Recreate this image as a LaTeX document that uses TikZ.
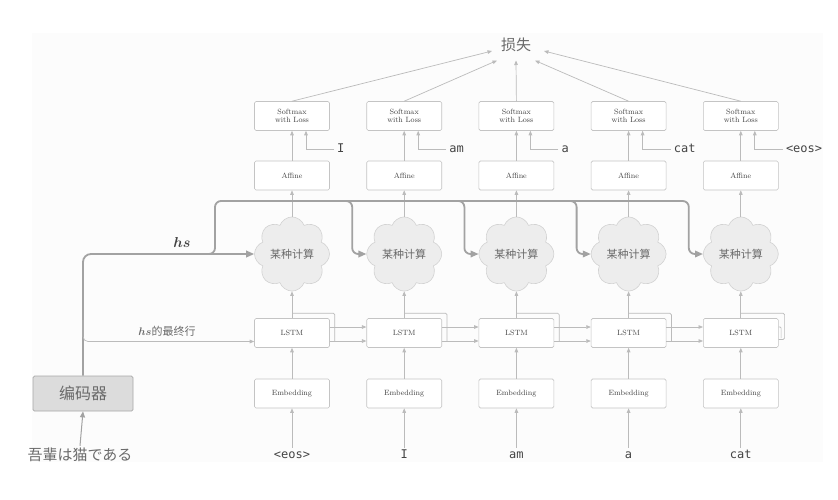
\documentclass[tikz,border=0pt]{standalone}
\usepackage{fontspec}
\usepackage{bm}
\newfontfamily\cjk{Noto Sans CJK SC}
\newfontfamily\mono{DejaVu Sans Mono}
\usetikzlibrary{shapes.symbols,arrows.meta,calc}
\definecolor{boxc}{HTML}{C4C4C4}
\definecolor{linec}{HTML}{BBBBBB}
\definecolor{hsc}{HTML}{A2A2A2}
\definecolor{cloudf}{HTML}{EDEDED}
\definecolor{cloudd}{HTML}{D2D2D2}
\definecolor{encf}{HTML}{DCDCDC}
\definecolor{encd}{HTML}{A8A8A8}
\definecolor{txt}{HTML}{444444}
\definecolor{ctxt}{HTML}{6A6A6A}
\definecolor{bgc}{HTML}{FCFCFC}
\begin{document}
\begin{tikzpicture}[x=1pt,y=-1pt,
  layerbox/.style={draw=boxc, fill=white, rounded corners=1.5pt, minimum width=75pt, minimum height=29pt, inner sep=0pt, align=center, text=txt, line width=0.6pt, font=\fontsize{7.6}{8.7}\selectfont},
  cloudnode/.style={cloud, cloud puffs=8, cloud puff arc=140, aspect=1, draw=cloudd, fill=cloudf, line width=0.6pt, minimum width=75pt, minimum height=72pt, inner sep=0pt, text=ctxt, font=\cjk\fontsize{11}{11}\selectfont},
  arr/.style={draw=linec, line width=0.7pt, -{Triangle[length=4.5pt,width=3.6pt]}},
  thinline/.style={draw=linec, line width=0.7pt},
  hsline/.style={draw=hsc, line width=1.8pt},
  hsarr/.style={-{Triangle[length=8pt,width=6.5pt]}},
  word/.style={text=txt, font=\mono\fontsize{12}{12}\selectfont, text height=8.5pt, text depth=2pt, inner sep=2pt},
  target/.style={word, anchor=west, inner sep=3pt}
]
\useasboundingbox (0,0) rectangle (838,499);
\fill[bgc] (32,33) rectangle (823,462);

% loss
\node[text=ctxt, font=\cjk\fontsize{15}{15}\selectfont, inner sep=0pt] (loss) at (516,45) {损失};
\coordinate (L1) at (492,51);
\coordinate (L2) at (497,60.5);
\coordinate (L3) at (516,60.5);
\coordinate (L4) at (535,60.5);
\coordinate (L5) at (544,51);

\foreach \i/\x/\tg/\inp in {1/292/I/<eos>, 2/404.2/am/I, 3/516.4/a/am, 4/628.6/cat/a, 5/740.8/<eos>/cat}{
  \node[layerbox] (sm\i) at (\x,116) {Softmax\\with Loss};
  \node[layerbox] (af\i) at (\x,175.5) {Affine};
  \node[cloudnode] (cl\i) at (\x,254) {某种计算};
  \node[layerbox] (ls\i) at (\x,333) {LSTM};
  \node[layerbox] (em\i) at (\x,393.5) {Embedding};
  \node[word] (w\i) at (\x,455) {\inp};
  \node[target] (tg\i) at (\x+42,149) {\tg};
  \draw[arr] (w\i.north) -- (em\i.south);
  \draw[arr] (em\i.north) -- (ls\i.south);
  \draw[arr] (ls\i.north) -- (cl\i.south);
  \draw[arr] (cl\i.north) -- (af\i.south);
  \draw[arr] (af\i.north) -- (sm\i.south);
  \draw[arr] (tg\i.west) -| ($(sm\i.south)+(14,0)$);
  \draw[arr] (sm\i.north) -- (L\i);
}

% LSTM recurrent connections
\foreach \i/\j in {1/2,2/3,3/4,4/5}{
  \draw[thinline, rounded corners=1.5pt] ($(ls\i.north)+(0,-5)$) -| ($(ls\i.east)+(5,8)$);
  \draw[arr] ($(ls\i.east)+(0,-6)$) -- ($(ls\j.west)+(0,-6)$);
  \draw[arr] ($(ls\i.east)+(0,8)$) -- ($(ls\j.west)+(0,8)$);
}
\draw[thinline, rounded corners=1.5pt] ($(ls5.north)+(0,-5)$) -| ($(ls5.east)+(6,6.5)$) -- ($(ls5.east)+(0,6.5)$);
\draw[thinline, rounded corners=1pt] ($(ls5.east)+(0,-6)$) -- ($(ls5.east)+(2.5,-6)$) -- ($(ls5.east)+(2.5,5)$);

% encoder
\node[draw=encd, fill=encf, rounded corners=1.5pt, line width=0.7pt, minimum width=100pt, minimum height=35pt, inner sep=0pt, text=ctxt, font=\cjk\fontsize{16}{16}\selectfont] (enc) at (83,393.5) {编码器};
\node[text=ctxt, font=\cjk\fontsize{15}{15}\selectfont, inner sep=2pt] (jp) at (80,455) {吾輩は猫である};
\draw[draw=hsc, line width=1pt, -{Triangle[length=6pt,width=5pt]}] (jp.north) -- (enc.south);

% hs thick lines
\draw[hsline, hsarr, rounded corners=8pt] (enc.north) |- (cl1.west);
\draw[hsline, rounded corners=6pt] (150,254) -- (215,254) -- (215,201) -- (680,201);
\foreach \j/\x in {2/404.2,3/516.4,4/628.6,5/740.8}{
  \draw[hsline, hsarr, rounded corners=6pt] (\x-75,201) -- (\x-52,201) -- (\x-52,254) -- (cl\j.west);
}
\node[text=txt, font=\fontsize{15}{15}\selectfont, inner sep=0pt] (hslab) at (182,242) {$\bm{hs}$};

% hs last row
\draw[arr, rounded corners=5pt] (83,320) |- ($(ls1.west)+(0,8.5)$);
\node[text=ctxt, font=\fontsize{11}{11}\selectfont, inner sep=0pt] (lastlab) at (167,331) {$\bm{hs}${\cjk 的最终行}};
\end{tikzpicture}
\end{document}
